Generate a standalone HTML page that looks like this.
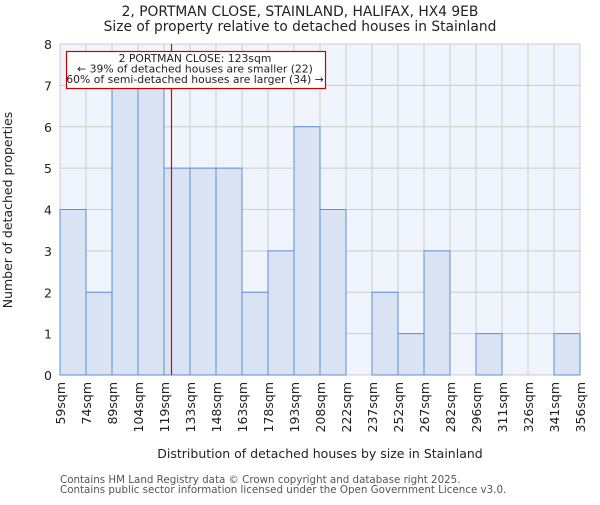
<!DOCTYPE html>
<html><head><meta charset="utf-8"><style>
body{margin:0;background:#fff}
text{font-family:"DejaVu Sans","Liberation Sans",sans-serif;fill:#222}
</style></head><body>
<svg id="chart" width="600" height="500">
<text x="300" y="16" font-size="13.8" text-anchor="middle">2, PORTMAN CLOSE, STAINLAND, HALIFAX, HX4 9EB</text>
<text x="300" y="31" font-size="13.8" text-anchor="middle">Size of property relative to detached houses in Stainland</text>
<rect x="60" y="44" width="520" height="331" fill="#f0f4fc"/>
<g id="grid"></g><g id="bars"></g><g id="axes"></g>
<text transform="translate(12,210) rotate(-90)" font-size="12.5" text-anchor="middle">Number of detached properties</text>
<text x="320" y="458" font-size="12.5" text-anchor="middle">Distribution of detached houses by size in Stainland</text>
<text x="60" y="483" font-size="10.3" style="fill:#555">Contains HM Land Registry data © Crown copyright and database right 2025.</text>
<text x="60" y="493" font-size="10.3" style="fill:#555">Contains public sector information licensed under the Open Government Licence v3.0.</text>
</svg>
<script>
const labels=["59sqm","74sqm","89sqm","104sqm","119sqm","133sqm","148sqm","163sqm","178sqm","193sqm","208sqm","222sqm","237sqm","252sqm","267sqm","282sqm","296sqm","311sqm","326sqm","341sqm","356sqm"];
const counts=[4,2,7,7,5,5,5,2,3,6,4,0,2,1,3,0,1,0,0,1];
const yTicks=[0,1,2,3,4,5,6,7,8];
const edges=[59,74,89,104,119,133,148,163,178,193,208,222,237,252,267,282,296,311,326,341,356];
const subject=123;
const X0=60,X1=580,Y0=375,Y1=44,NS="http://www.w3.org/2000/svg";
const bw=(X1-X0)/counts.length;
const xi=i=>X0+i*bw;
const y=v=>Y0-(v/8)*(Y0-Y1);
function xv(v){for(let i=0;i<edges.length-1;i++){if(v<=edges[i+1])return xi(i)+(v-edges[i])/(edges[i+1]-edges[i])*bw;}return X1;}
function mk(t,a,p){const e=document.createElementNS(NS,t);for(const k in a)e.setAttribute(k,a[k]);p.appendChild(e);return e;}
const g=document.getElementById('grid'),b=document.getElementById('bars'),ax=document.getElementById('axes');
yTicks.forEach(v=>{
 const l=mk('line',{x1:X0,x2:X1,y1:y(v),y2:y(v),stroke:'#ccc'},g);
 
 
 const t=mk('text',{x:X0-8,y:y(v)+5,'font-size':12.5,'text-anchor':'end'},ax);t.textContent=v;
 
 
});
labels.forEach((s,i)=>{
 const l=mk('line',{x1:xi(i),x2:xi(i),y1:Y1,y2:Y0,stroke:'#ccc'},g);
 
 
 const t=mk('text',{transform:`translate(${xi(i)+5},382) rotate(-90)`,'font-size':12.5,'text-anchor':'end'},ax);t.textContent=s;
 
 
});
counts.forEach((c,i)=>{
 if(c<=0)return;
 const r=mk('rect',{x:xi(i),y:y(c),width:bw,height:Y0-y(c),fill:'#dae3f3',stroke:'#5b8fd6','stroke-width':1},b);
 
 
});
const sx=Math.round(xv(subject))+0.5;
const rl=mk('line',{x1:sx,x2:sx,y1:Y1,y2:Y0,stroke:'#e00000','stroke-width':1.2},b);


const box=mk('rect',{x:66.5,y:51.5,width:259,height:37,fill:'#fff',stroke:'#c00','stroke-width':1.2},b);


["2 PORTMAN CLOSE: 123sqm","← 39% of detached houses are smaller (22)","60% of semi-detached houses are larger (34) →"].forEach((s,i)=>{
 const t=mk('text',{x:195,y:62+i*10.5,'font-size':10.8,'text-anchor':'middle'},b);t.textContent=s;
 
 
});
</script>
</body></html>
